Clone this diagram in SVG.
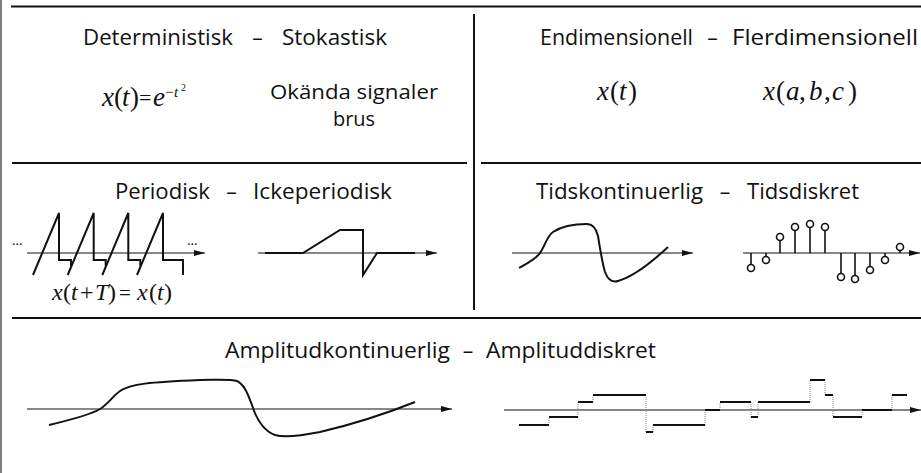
<svg xmlns="http://www.w3.org/2000/svg" width="921" height="473" viewBox="0 0 921 473">
<style>
.t{font-family:"Open Sans","Liberation Sans",sans-serif;font-size:21px;fill:#111}
.d{font-family:"Open Sans","Liberation Sans",sans-serif;font-size:21px;fill:#111;text-anchor:middle}
.m{font-family:"Liberation Serif","Times New Roman",serif;font-size:27px;fill:#111}
.i{font-style:italic}
.div{stroke:#111;stroke-width:2;fill:none}
.ax{stroke:#111;stroke-width:1.2;fill:none;marker-end:url(#ah)}
.sig{stroke:#111;stroke-width:2;fill:none;stroke-linejoin:miter}
.stem{stroke:#111;stroke-width:1.6}
.dot{fill:#fff;stroke:#111;stroke-width:1.6}
.con{stroke:#888;stroke-width:1;stroke-dasharray:1 1}
</style>
<defs>
<marker id="ah" markerWidth="12" markerHeight="8" refX="11" refY="4" orient="auto" markerUnits="userSpaceOnUse">
<path d="M0,1 L11,4 L0,7 Z" fill="#111"/>
</marker>
</defs>
<rect width="921" height="473" fill="#fff"/>
<g id="frame">
<line x1="1" y1="0" x2="1" y2="473" stroke="#808080" stroke-width="2"/>
<line class="div" x1="11" y1="6.5" x2="921" y2="6.5"/>
<line class="div" x1="474" y1="14" x2="474" y2="310"/>
<line class="div" x1="12" y1="163" x2="467" y2="163"/>
<line class="div" x1="481" y1="163" x2="921" y2="163"/>
<line class="div" x1="12" y1="318" x2="921" y2="318"/>
</g>
<g id="deterministisk">
<text class="t" x="83" y="45" textLength="150" lengthAdjust="spacingAndGlyphs">Deterministisk</text>
<text class="d" x="257.5" y="45">–</text>
<text class="t" x="282" y="45" textLength="105" lengthAdjust="spacingAndGlyphs">Stokastisk</text>
<text class="m" y="106"><tspan class="i" x="102">x</tspan><tspan x="114">(</tspan><tspan class="i" x="122">t</tspan><tspan x="130">)</tspan></text>
<text class="m" y="105" style="font-size:22px"><tspan x="139">=</tspan></text>
<text class="m" y="106"><tspan class="i" x="153">e</tspan></text>
<text class="m" y="97" style="font-size:15px"><tspan x="165">−</tspan><tspan class="i" x="174">t</tspan></text>
<text class="m" y="91" style="font-size:10px"><tspan x="181">2</tspan></text>
<text class="t" x="354" y="99" text-anchor="middle" style="font-size:20px" textLength="168" lengthAdjust="spacingAndGlyphs">Okända signaler</text>
<text class="t" x="354" y="126" text-anchor="middle" style="font-size:20px">brus</text>
</g>
<g id="dimension">
<text class="t" x="540" y="45" textLength="153" lengthAdjust="spacingAndGlyphs">Endimensionell</text>
<text class="d" x="712.5" y="45">–</text>
<text class="t" x="732" y="45" textLength="186" lengthAdjust="spacingAndGlyphs">Flerdimensionell</text>
<text class="m" y="100"><tspan class="i" x="597">x</tspan><tspan x="610">(</tspan><tspan class="i" x="619">t</tspan><tspan x="628">)</tspan></text>
<text class="m" y="100"><tspan class="i" x="763">x</tspan><tspan x="776">(</tspan><tspan class="i" x="786">a</tspan><tspan x="799">,</tspan><tspan class="i" x="809">b</tspan><tspan x="824">,</tspan><tspan class="i" x="832">c</tspan><tspan x="848">)</tspan></text>
</g>
<g id="periodisk">
<text class="t" x="115" y="199" textLength="95" lengthAdjust="spacingAndGlyphs">Periodisk</text>
<text class="d" x="231.5" y="199">–</text>
<text class="t" x="253" y="199" textLength="139" lengthAdjust="spacingAndGlyphs">Ickeperiodisk</text>
<line class="ax" x1="27" y1="253" x2="205" y2="253"/>
<text x="12" y="245" style="font-family:'Liberation Serif',serif;font-size:14px">...</text>
<text x="187" y="245" style="font-family:'Liberation Serif',serif;font-size:14px">...</text>
<path class="sig" d="M33,275 L59,213 L59,260 L71,260 L71,266"/>
<path class="sig" d="M67.7,275 L93.7,213 L93.7,260 L105.7,260 L105.7,266"/>
<path class="sig" d="M102.3,275 L128.3,213 L128.3,260 L140.3,260 L140.3,266"/>
<path class="sig" d="M137,275 L163,213 L163,260 L183,260 L183,275"/>
<text class="m" y="300" style="font-size:24px"><tspan class="i" x="52">x</tspan><tspan x="63">(</tspan><tspan class="i" x="71">t</tspan><tspan x="80">+</tspan><tspan class="i" x="95">T</tspan><tspan x="108">)</tspan></text>
<text class="m" y="300" style="font-size:21px"><tspan x="119">=</tspan></text>
<text class="m" y="300" style="font-size:24px"><tspan class="i" x="137">x</tspan><tspan x="149">(</tspan><tspan class="i" x="157">t</tspan><tspan x="164">)</tspan></text>
<line class="ax" x1="258" y1="253" x2="437" y2="253"/>
<path class="sig" d="M265,253 L303,253 L340,230 L363,230 L363,275 L377,253 L415,253"/>
</g>
<g id="tidskontinuerlig">
<text class="t" x="536" y="199" textLength="167" lengthAdjust="spacingAndGlyphs">Tidskontinuerlig</text>
<text class="d" x="725" y="199">–</text>
<text class="t" x="747" y="199" textLength="112" lengthAdjust="spacingAndGlyphs">Tidsdiskret</text>
<line class="ax" x1="512" y1="253" x2="693" y2="253"/>
<path class="sig" d="M519,268 C528,263 536,259 540,253 C545,246 547,236 553,232 C562,226 575,224 587,224 C593,224 596,228 598,236 C600,248 602,262 605,272 C608,280 612,283 618,281 C635,276 652,262 668,247"/>
<line class="ax" x1="743" y1="253" x2="920" y2="253"/>
<g>
<line class="stem" x1="751" y1="253" x2="751" y2="264.5"/><circle class="dot" cx="751" cy="268" r="3.5"/>
<line class="stem" x1="766" y1="253" x2="766" y2="256.5"/><circle class="dot" cx="766" cy="260" r="3.5"/>
<line class="stem" x1="780" y1="253" x2="780" y2="240.5"/><circle class="dot" cx="780" cy="237" r="3.5"/>
<line class="stem" x1="795" y1="253" x2="795" y2="230.5"/><circle class="dot" cx="795" cy="227" r="3.5"/>
<line class="stem" x1="810" y1="253" x2="810" y2="227.5"/><circle class="dot" cx="810" cy="224" r="3.5"/>
<line class="stem" x1="825" y1="253" x2="825" y2="230.5"/><circle class="dot" cx="825" cy="227" r="3.5"/>
<line class="stem" x1="841" y1="253" x2="841" y2="273.5"/><circle class="dot" cx="841" cy="277" r="3.5"/>
<line class="stem" x1="855" y1="253" x2="855" y2="275.5"/><circle class="dot" cx="855" cy="279" r="3.5"/>
<line class="stem" x1="870" y1="253" x2="870" y2="266.5"/><circle class="dot" cx="870" cy="270" r="3.5"/>
<line class="stem" x1="885" y1="253" x2="885" y2="256.5"/><circle class="dot" cx="885" cy="260" r="3.5"/>
<line class="stem" x1="900" y1="253" x2="900" y2="250.5"/><circle class="dot" cx="900" cy="247" r="3.5"/>
</g>
</g>
<g id="amplitud">
<text class="t" x="225" y="358" textLength="225" lengthAdjust="spacingAndGlyphs">Amplitudkontinuerlig</text>
<text class="d" x="468" y="358">–</text>
<text class="t" x="486" y="358" textLength="170" lengthAdjust="spacingAndGlyphs">Amplituddiskret</text>
<line class="ax" x1="27" y1="409" x2="452" y2="409"/>
<path class="sig" d="M49,425 C70,420 90,415 100,409 C108,404 113,396 120,391 C130,384 150,382 200,380 C215,380 230,379 237,381 C245,385 248,395 252,405 C256,418 262,430 275,435 C285,438 300,436 320,432 C350,425 385,414 415,402"/>
<line class="ax" x1="504" y1="410" x2="921" y2="410"/>
<g>
<path class="con" d="M549,425V417 M578,417V402 M593,402V395 M646,395V432 M653,432V425 M705,425V410 M720,410V402 M751,402V417 M758,417V402 M810,402V380 M825,380V395 M833,395V417 M862,417V410 M892,410V395"/>
<path class="sig" d="M519,425H549 M549,417H578 M578,402H593 M593,395H646 M646,432H653 M653,425H705 M705,410H720 M720,402H751 M751,417H758 M758,402H810 M810,380H825 M825,395H833 M833,417H862 M862,410H892 M892,395H907"/>
</g>
</g>
</svg>
